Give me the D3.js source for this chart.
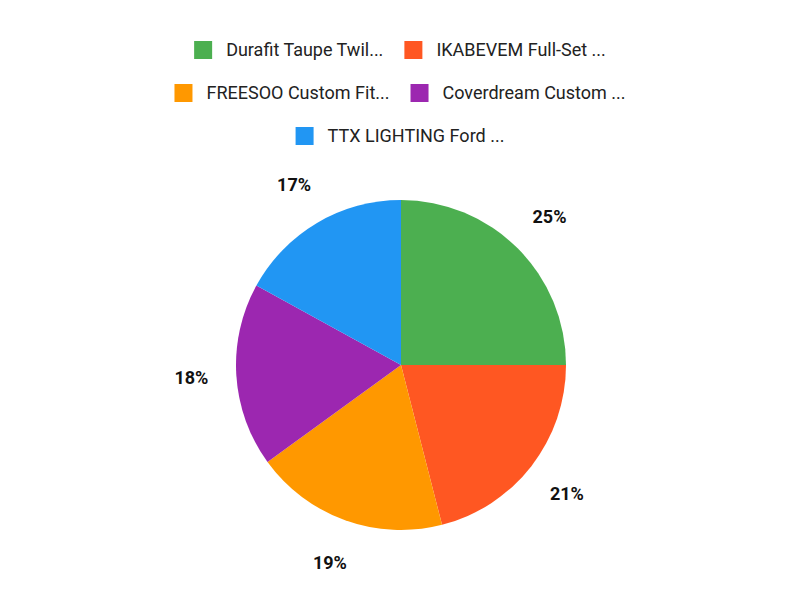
<!DOCTYPE html>
<html><head><meta charset="utf-8">
<script src="https://cdn.jsdelivr.net/npm/d3@7"></script>
<style>body{margin:0;background:#fff}</style></head>
<body><svg id="c" width="800" height="600"></svg>
<script>
const categories = ["Durafit Taupe Twil...", "IKABEVEM Full-Set ...", "FREESOO Custom Fit...", "Coverdream Custom ...", "TTX LIGHTING Ford ..."];
const values = [25, 21, 19, 18, 17];
const colors = ["#4CAF50", "#FF5722", "#FF9800", "#9C27B0", "#2196F3"];
const legendRows = [[0,1],[2,3],[4]];

const svg = d3.select("#c");
const font = "Roboto, sans-serif";
// legend
legendRows.forEach((row, ri) => {
  const y = 50 + ri * 43;
  const g = svg.append("g");
  let x = 0;
  row.forEach((i, k) => {
    const it = g.append("g").attr("transform", `translate(${x},0)`);
    it.append("rect").attr("x", 0).attr("y", y - 9).attr("width", 18).attr("height", 18).attr("fill", colors[i]);
    const t = it.append("text").attr("x", 32).attr("y", y).attr("dy", "0.35em")
      .attr("font-family", font).attr("font-size", 18).attr("fill", "#222").text(categories[i]);
    x += 32 + t.node().getComputedTextLength() + 21;
  });
  const w = x - 21;
  g.attr("transform", `translate(${400 - w / 2},0)`);
});

const cx = 401, cy = 365, r = 165;
const pie = d3.pie().sort(null).value(d => d)(values);
const arc = d3.arc().innerRadius(0).outerRadius(r);
const g = svg.append("g").attr("transform", `translate(${cx},${cy})`);
g.selectAll("path").data(pie).join("path").attr("d", arc).attr("fill", (d, i) => colors[i]);
const lab = d3.arc().innerRadius(210).outerRadius(210);
g.selectAll("text").data(pie).join("text")
  .attr("transform", d => `translate(${lab.centroid(d)})`)
  .attr("text-anchor", "middle").attr("dy", "0.35em")
  .attr("font-family", font).attr("font-size", 18).attr("font-weight", "bold").attr("fill", "#111")
  .text(d => d.data + "%");
</script></body></html>
